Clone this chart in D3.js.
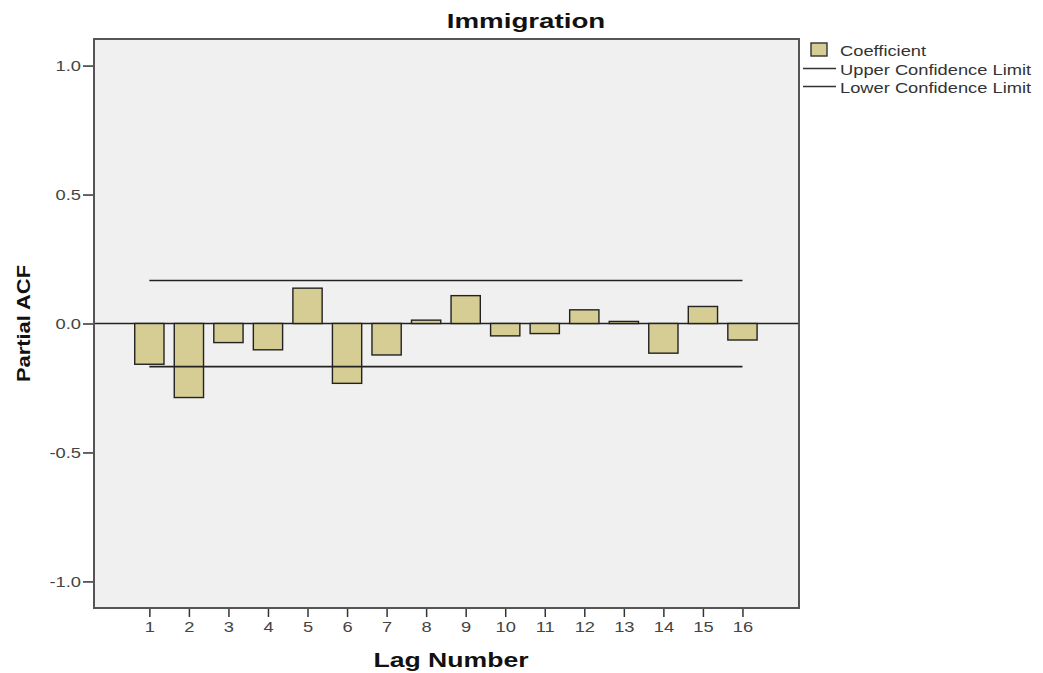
<!DOCTYPE html>
<html>
<head>
<meta charset="utf-8">
<script src="https://cdn.jsdelivr.net/npm/d3@7"></script>
<style>
  html, body { margin: 0; padding: 0; background: #ffffff; }
  svg { display: block; }
  text { font-family: "Liberation Sans", Arial, sans-serif; }
</style>
</head>
<body>
<svg id="chart" width="1043" height="673"></svg>
<script>
// ---- data ----
const lags = [1, 2, 3, 4, 5, 6, 7, 8, 9, 10, 11, 12, 13, 14, 15, 16];
const coefficients = [-0.158, -0.287, -0.074, -0.102, 0.137, -0.232, -0.122, 0.013, 0.108, -0.048, -0.039, 0.053, 0.008, -0.115, 0.066, -0.064];
const upperLimit = [0.167, 0.167];
const lowerLimit = [-0.167, -0.167];
const limitLags = [1, 16];
const yTicks = [-1.0, -0.5, 0.0, 0.5, 1.0];
const legendLabels = ["Coefficient", "Upper Confidence Limit", "Lower Confidence Limit"];

// ---- layout ----
const svg = d3.select("#chart");
const plot = { left: 94, right: 799, top: 39, bottom: 608 };

const x = d3.scaleLinear().domain([-0.4, 17.43]).range([plot.left, plot.right]);
const y = d3.scaleLinear().domain([-1.103, 1.103]).range([plot.bottom, plot.top]);

// background
svg.append("rect")
  .attr("x", plot.left).attr("y", plot.top)
  .attr("width", plot.right - plot.left).attr("height", plot.bottom - plot.top)
  .attr("fill", "#f0f0f0");

// y axis
const tickStretch = 1.22;
const yAxis = d3.axisLeft(y).tickValues(yTicks).tickSize(11).tickSizeOuter(0)
  .tickFormat(d => d.toFixed(1));
const gy = svg.append("g").attr("transform", `translate(${plot.left},0)`).call(yAxis);
gy.select(".domain").remove();
gy.selectAll(".tick line").attr("stroke", "#333").attr("stroke-width", 1.5);
gy.selectAll(".tick text").attr("fill", "#444").attr("font-size", 15)
  .attr("x", -13 / tickStretch).attr("transform", `scale(${tickStretch},1)`)
  .attr("font-family", "'Liberation Sans', Arial, sans-serif");

// x axis
const xAxis = d3.axisBottom(x).tickValues(lags).tickSize(9).tickSizeOuter(0)
  .tickFormat(d3.format("d"));
const gx = svg.append("g").attr("transform", `translate(0,${plot.bottom})`).call(xAxis);
gx.select(".domain").remove();
gx.selectAll(".tick line").attr("stroke", "#333").attr("stroke-width", 1.5);
gx.selectAll(".tick text").attr("fill", "#444").attr("font-size", 15)
  .attr("y", 13).attr("transform", `scale(${tickStretch},1)`)
  .attr("font-family", "'Liberation Sans', Arial, sans-serif");

// zero line
svg.append("line")
  .attr("x1", plot.left).attr("x2", plot.right)
  .attr("y1", y(0)).attr("y2", y(0))
  .attr("stroke", "#222").attr("stroke-width", 1.5);

// bars
const halfW = 0.37;
svg.append("g").selectAll("rect")
  .data(lags.map((l, i) => ({ lag: l, v: coefficients[i] })))
  .join("rect")
  .attr("x", d => x(d.lag - halfW))
  .attr("width", d => x(d.lag + halfW) - x(d.lag - halfW))
  .attr("y", d => y(Math.max(0, d.v)))
  .attr("height", d => Math.abs(y(d.v) - y(0)))
  .attr("fill", "#d5cd93")
  .attr("stroke", "#222")
  .attr("stroke-width", 1.4);

// confidence limits
const limLine = d3.line().x((d, i) => x(limitLags[i])).y(d => y(d));
[upperLimit, lowerLimit].forEach(arr => {
  svg.append("path").attr("d", limLine(arr))
    .attr("fill", "none").attr("stroke", "#222").attr("stroke-width", 1.6);
});

// frame
svg.append("rect")
  .attr("x", plot.left).attr("y", plot.top)
  .attr("width", plot.right - plot.left).attr("height", plot.bottom - plot.top)
  .attr("fill", "none").attr("stroke", "#555").attr("stroke-width", 2);

// stretched text helper
function addText(tx, ty, str, size, sx, opts = {}) {
  const t = svg.append("text")
    .attr("transform", `translate(${tx},${ty})${opts.rotate ? " rotate(" + opts.rotate + ")" : ""} scale(${sx},1)`)
    .attr("text-anchor", opts.anchor || "start")
    .attr("font-size", size)
    .attr("font-weight", opts.bold ? "bold" : "normal")
    .attr("fill", opts.fill || "#111")
    .text(str);
  return t;
}

// title
addText(526, 28, "Immigration", 21, 1.32, { anchor: "middle", bold: true });

// axis titles
addText(451, 667, "Lag Number", 20, 1.33, { anchor: "middle", bold: true });
addText(30, y(0), "Partial ACF", 19, 1.15, { anchor: "middle", bold: true, rotate: -90 });

// legend
const lg = svg.append("g");
lg.append("rect").attr("x", 811).attr("y", 43).attr("width", 16).attr("height", 13)
  .attr("fill", "#d5cd93").attr("stroke", "#333").attr("stroke-width", 1.4);
const legendY = [56, 75, 93];
legendLabels.forEach((t, i) => {
  addText(840, legendY[i], t, 15, 1.22, { fill: "#333" });
  if (i > 0) {
    lg.append("line").attr("x1", 803).attr("x2", 836)
      .attr("y1", legendY[i] - 6.5).attr("y2", legendY[i] - 6.5)
      .attr("stroke", "#333").attr("stroke-width", 1.5);
  }
});
</script>
</body>
</html>
